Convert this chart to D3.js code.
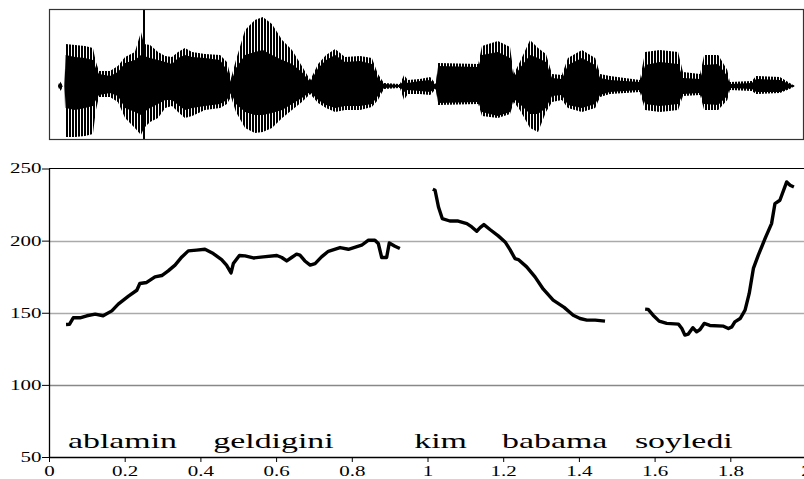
<!DOCTYPE html>
<html>
<head>
<meta charset="utf-8">
<script src="https://cdn.jsdelivr.net/npm/d3@7"></script>
<style>
  html, body { margin: 0; padding: 0; background: #fff; }
  svg { display: block; font-family: "Liberation Serif", "Times New Roman", serif; }
</style>
</head>
<body>
<div id="canva"></div>
<script>
// pitch track, three voiced stretches (time in s, F0 in Hz)
const segA_t = [0.045,0.054,0.064,0.082,0.100,0.122,0.143,0.166,0.183,0.210,0.232,0.240,0.258,0.280,0.298,0.315,0.333,0.351,0.368,0.390,0.412,0.434,0.456,0.469,0.481,0.487,0.503,0.518,0.540,0.566,0.602,0.615,0.628,0.641,0.654,0.663,0.676,0.690,0.703,0.720,0.738,0.769,0.791,0.826,0.844,0.861,0.870,0.879,0.892,0.899,0.914,0.927];
const segA_hz = [141.9,142,146.5,146.5,147.9,149,147.9,151.3,156,161.5,165.6,170.3,171,174.9,175.8,179,183,188.7,192.9,193.4,194,191,186.9,183,177.6,184.1,189.7,189.4,188,188.7,189.7,188.3,185.9,188.3,190.6,189.9,185.9,183,184.1,188.7,192.6,195.2,194,196.8,200.3,200.3,198,188.3,188.3,198.4,196.1,194.5];

const segB_t = [1.014,1.020,1.029,1.039,1.059,1.081,1.104,1.117,1.130,1.139,1.149,1.165,1.187,1.205,1.218,1.231,1.240,1.262,1.284,1.306,1.332,1.361,1.385,1.403,1.421,1.443,1.469];
const segB_hz = [235.6,234.9,223.3,215.3,213.6,213.6,211.8,209.5,206.5,209,211.1,207.7,203.3,199.1,193.8,187.6,186.9,181.8,174.9,166.3,158.7,153.7,148.3,146,144.9,144.9,144.2];

const segC_t = [1.575,1.583,1.596,1.612,1.632,1.663,1.672,1.680,1.689,1.701,1.711,1.720,1.731,1.746,1.782,1.795,1.804,1.812,1.826,1.839,1.850,1.861,1.874,1.892,1.909,1.918,1.931,1.949,1.958,1.968];
const segC_hz = [152.5,152.3,148.3,144.2,142.6,142.1,139.1,134.5,135.2,139.6,136.8,138.4,142.6,141.2,140.7,139.1,140.2,143.7,146,151.8,163.4,180.7,189.9,201.5,211.8,225.7,228,240.7,238.4,237.2];

// waveform envelope (arbitrary amplitude units): outer peaks and dense core
const waveT = [0,0.024,0.028,0.032,0.037,0.041,0.044,0.069,0.095,0.116,0.124,0.132,0.161,0.182,0.201,0.227,0.243,0.251,0.267,0.288,0.307,0.325,0.341,0.359,0.378,0.412,0.452,0.470,0.481,0.494,0.518,0.544,0.565,0.589,0.616,0.642,0.668,0.690,0.711,0.732,0.756,0.782,0.822,0.853,0.869,0.885,0.927,0.938,0.948,0.980,1.007,1.022,1.028,1.134,1.144,1.186,1.218,1.228,1.244,1.271,1.292,1.313,1.329,1.355,1.371,1.408,1.443,1.456,1.482,1.561,1.575,1.614,1.662,1.675,1.720,1.731,1.768,1.792,1.799,1.857,1.868,1.931,1.957,1.971,1.995];
const waveOuterHi = [0,0,5,3,0,0,42,41,40,38,24,15,15,20,29,34,54,42,41,34,30,29,34,38,34,32,31,24,8,26,56,66,69,62,46,36,20,6,22,31,37,29,30,28,12,3,2,11,6,7,9,2,23,22,40,45,39,12,24,46,38,32,12,11,28,36,28,12,10,6,34,36,34,14,12,31,31,16,4,5,10,9,3,0,0];
const waveCoreHi = [0,0,3,1,0,0,31,29,28,26,18,12,10,14,23,26,31,30,28,26,24,22,28,31,29,28,26,16,4,18,31,34,36,31,26,22,14,4,18,26,31,24,25,22,8,2,1,6,3,5,6,1,20,19,31,34,28,9,18,31,28,24,8,7,21,28,21,8,6,4,21,24,22,8,7,21,22,10,2,3,7,6,2,0,0];
const waveCoreLo = [0,0,-3,-2,0,0,-22,-24,-22,-20,-14,-9,-7,-10,-22,-26,-29,-26,-22,-18,-14,-14,-19,-24,-22,-20,-18,-14,-7,-18,-26,-29,-29,-27,-24,-18,-12,-6,-14,-19,-22,-20,-20,-18,-10,-2,-1,-6,-4,-5,-6,-2,-17,-16,-26,-30,-26,-13,-18,-28,-28,-22,-10,-9,-19,-22,-18,-9,-6,-4,-18,-20,-18,-8,-7,-18,-19,-10,-2,-3,-6,-6,-2,0,0];
const waveOuterLo = [0,0,-5,-4,0,0,-51,-51,-50,-48,-24,-11,-11,-16,-32,-42,-49,-42,-36,-32,-22,-20,-26,-32,-30,-24,-22,-18,-11,-26,-42,-47,-46,-42,-32,-24,-16,-8,-17,-22,-26,-24,-24,-21,-14,-3,-2,-14,-8,-8,-9,-3,-19,-18,-30,-32,-28,-16,-24,-42,-46,-26,-16,-14,-22,-26,-22,-11,-8,-6,-24,-26,-24,-10,-9,-24,-24,-14,-4,-5,-8,-7,-3,0,0];
const clickTime = 0.251;

const words = ["ablamin", "geldigini", "kim", "babama", "soyledi"];
const wordStart = [0.050, 0.434, 0.965, 1.197, 1.548];

const xTicks = [0, 0.2, 0.4, 0.6, 0.8, 1, 1.2, 1.4, 1.6, 1.8, 2];
const yTicks = [50, 100, 150, 200, 250];
const gridLines = [100, 150, 200];

const width = 804;
const height = 479;

const svg = d3.select("#canva").append("svg")
    .attr("width", width)
    .attr("height", height);

const x = d3.scaleLinear().domain([0, 2]).range([49, 806]);
const y = d3.scaleLinear().domain([50, 250]).range([457, 168.5]);
const yWave = d3.scaleLinear().domain([-53, 77]).range([139, 9]);

// stripes give the outer peaks their comb look
svg.append("defs").append("pattern")
    .attr("id", "pulses")
    .attr("patternUnits", "userSpaceOnUse")
    .attr("width", 3)
    .attr("height", 20)
  .append("rect")
    .attr("width", 2)
    .attr("height", 20)
    .attr("fill", "#000");

const wave = waveT.map((t, i) => ({
    t, oh: waveOuterHi[i], ch: waveCoreHi[i], cl: waveCoreLo[i], ol: waveOuterLo[i]
}));

const wg = svg.append("g");

wg.append("path")
    .datum(wave)
    .attr("fill", "url(#pulses)")
    .attr("d", d3.area().x(d => x(d.t)).y0(d => yWave(d.ol)).y1(d => yWave(d.oh)));

wg.append("path")
    .datum(wave)
    .attr("fill", "#000")
    .attr("d", d3.area().x(d => x(d.t)).y0(d => yWave(d.cl)).y1(d => yWave(d.ch)));

wg.append("line")
    .attr("x1", x(clickTime)).attr("x2", x(clickTime))
    .attr("y1", yWave(-53)).attr("y2", yWave(77))
    .attr("stroke", "#000")
    .attr("stroke-width", 2);

wg.append("rect")
    .attr("x", 49.5)
    .attr("y", 9.5)
    .attr("width", 803.5 - 49.5)
    .attr("height", 130)
    .attr("fill", "none")
    .attr("stroke", "#333")
    .attr("stroke-width", 1.2);

// pitch panel
svg.append("g")
    .selectAll("line")
    .data(gridLines)
    .join("line")
        .attr("x1", x(0)).attr("x2", width)
        .attr("y1", d => Math.round(y(d)) + 0.5)
        .attr("y2", d => Math.round(y(d)) + 0.5)
        .attr("stroke", d => d === 100 ? "#888" : "#aaa")
        .attr("stroke-width", 1.3);

svg.append("line")
    .attr("x1", x(0)).attr("x2", width)
    .attr("y1", y(250)).attr("y2", y(250))
    .attr("stroke", "#000")
    .attr("stroke-width", 1.2);

function yAxis(g) {
    g.attr("transform", `translate(${x(0)}, 0)`)
        .call(d3.axisLeft(y).tickValues(yTicks).tickSize(7).tickSizeOuter(0).tickFormat(d3.format("d")));
    g.select(".domain").attr("stroke-width", 1.3);
    g.selectAll("text")
        .attr("x", -5)
        .attr("font-size", "14px")
        .attr("font-family", "'Liberation Serif', serif")
        .attr("transform", "scale(1.5,1)");
}

function xAxis(g) {
    g.attr("transform", `translate(0, ${y(50)})`)
        .call(d3.axisBottom(x).tickValues(xTicks).tickSize(5).tickSizeOuter(0).tickFormat(d3.format("~g")));
    g.select(".domain").attr("stroke-width", 1.3);
    g.selectAll("text")
        .attr("y", 19)
        .attr("dy", 0)
        .attr("font-size", "14px")
        .attr("font-family", "'Liberation Serif', serif")
        .attr("transform", "scale(1.5,1)");
}

svg.append("g").call(xAxis);
svg.append("g").call(yAxis);

const pitchLine = d3.line().x(d => x(d[0])).y(d => y(d[1]));

[[segA_t, segA_hz], [segB_t, segB_hz], [segC_t, segC_hz]].forEach(([ts, hz]) => {
    svg.append("path")
        .datum(ts.map((t, i) => [t, hz[i]]))
        .attr("fill", "none")
        .attr("stroke", "#000")
        .attr("stroke-width", 3.4)
        .attr("stroke-linejoin", "round")
        .attr("stroke-linecap", "butt")
        .attr("d", pitchLine);
});

svg.append("g")
    .selectAll("text")
    .data(words)
    .join("text")
        .attr("transform", (d, i) => `translate(${x(wordStart[i])}, 448) scale(1.54,1)`)
        .attr("font-size", "22px")
        .attr("fill", "#000")
        .text(d => d);
</script>
</body>
</html>
